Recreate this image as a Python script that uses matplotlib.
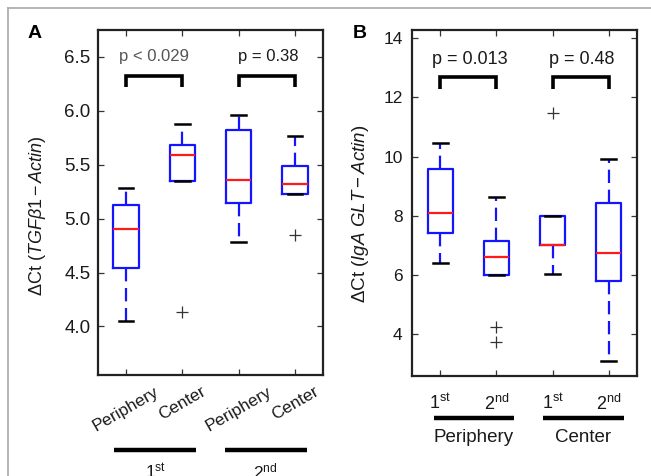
import matplotlib
matplotlib.use('Agg')
import matplotlib.pyplot as plt
import matplotlib.transforms as mtransforms
from matplotlib.lines import Line2D

plt.rcParams['font.family'] = ['Liberation Sans', 'DejaVu Sans']
plt.rcParams['mathtext.fontset'] = 'custom'
plt.rcParams['mathtext.rm'] = 'Liberation Sans'
plt.rcParams['mathtext.it'] = 'Liberation Sans:italic'
plt.rcParams['mathtext.bf'] = 'Liberation Sans:bold'

# ---------------- data ----------------
# Panel A: TGFbeta1
labels_A = ['Periphery', 'Center', 'Periphery', 'Center']
group_A = ['1$^{\\mathrm{st}}$', '2$^{\\mathrm{nd}}$']
a_q1 = [4.54, 5.35, 5.15, 5.23]
a_med = [4.90, 5.59, 5.36, 5.32]
a_q3 = [5.13, 5.68, 5.82, 5.49]
a_lo = [4.05, 5.35, 4.78, 5.23]
a_hi = [5.28, 5.88, 5.96, 5.77]
a_fliers = [[], [4.13], [], [4.85]]
p_A = ['p < 0.029', 'p = 0.38']

# Panel B: IgA GLT
labels_B = ['1$^{\\mathrm{st}}$', '2$^{\\mathrm{nd}}$', '1$^{\\mathrm{st}}$', '2$^{\\mathrm{nd}}$']
group_B = ['Periphery', 'Center']
b_q1 = [7.43, 6.00, 7.03, 5.80]
b_med = [8.09, 6.62, 7.03, 6.76]
b_q3 = [9.57, 7.16, 8.00, 8.45]
b_lo = [6.40, 6.00, 6.03, 3.10]
b_hi = [10.47, 8.65, 8.00, 9.91]
b_fliers = [[], [4.24, 3.75], [11.47], []]
p_B = ['p = 0.013', 'p = 0.48']

positions = [1, 2, 3, 4]

BLUE = '#1414ff'
RED = '#ff1a1a'
DARK = '#1a1a1a'

fig = plt.figure(figsize=(6.51, 4.76), dpi=100)
W, H = 651.0, 476.0
axA = fig.add_axes([98 / W, 1 - 375 / H, 225 / W, 345 / H])
axB = fig.add_axes([412.3 / W, 1 - 375.7 / H, 224.4 / W, 345.7 / H])


def draw_boxes(ax, q1, med, q3, lo, hi, fliers):
    stats = []
    for i in range(len(q1)):
        stats.append(dict(q1=q1[i], med=med[i], q3=q3[i], whislo=lo[i],
                          whishi=hi[i], fliers=fliers[i]))
    ax.bxp(stats, positions=positions, widths=0.45, capwidths=0.26,
           showfliers=True, manage_ticks=False,
           boxprops=dict(color=BLUE, lw=1.6),
           whiskerprops=dict(color=BLUE, lw=1.6, linestyle=(0, (6, 3))),
           capprops=dict(color='black', lw=1.8, zorder=4),
           medianprops=dict(color=RED, lw=1.6, zorder=5),
           flierprops=dict(marker='+', markeredgecolor='#333333',
                           markersize=9, markeredgewidth=0.9, linestyle='none'))


def style(ax):
    for s in ax.spines.values():
        s.set_linewidth(1.6)
        s.set_color('#222222')
    ax.tick_params(direction='in', length=4, width=0.9, top=True, right=True,
                   labelsize=12, colors='#333333', labelcolor=DARK)
    ax.set_xlim(0.5, 4.5)


def bracket(ax, x0, x1, ybot, ytop):
    ax.plot([x0, x0, x1, x1], [ybot, ytop, ytop, ybot], color='black', lw=2.6,
            solid_joinstyle='miter', solid_capstyle='butt', clip_on=False, zorder=6)


# ---------- Panel A ----------
draw_boxes(axA, a_q1, a_med, a_q3, a_lo, a_hi, a_fliers)
style(axA)
axA.set_ylim(3.55, 6.75)
axA.set_yticks([4.0, 4.5, 5.0, 5.5, 6.0, 6.5])
axA.set_yticklabels(['4.0', '4.5', '5.0', '5.5', '6.0', '6.5'])
axA.tick_params(axis='y', labelsize=13.5, pad=5.5)
axA.set_xticks(positions)
axA.set_xticklabels(labels_A, rotation=30, ha='center')
axA.tick_params(axis='x', pad=6.5, labelsize=12.3)
axA.set_ylabel('ΔCt ($\\mathit{TGF\\beta 1 - Actin}$)', fontsize=13, color=DARK, va='center')
axA.yaxis.set_label_coords(-0.267, 0.462)

bracket(axA, 1, 2, 6.22, 6.32)
bracket(axA, 3, 4, 6.22, 6.32)
axA.text(1.5, 6.5, p_A[0], ha='center', va='center', fontsize=12, color='#555555')
axA.text(3.52, 6.5, p_A[1], ha='center', va='center', fontsize=12, color=DARK)

trA = mtransforms.blended_transform_factory(axA.transData, axA.transAxes)
for c, lab in zip([1.52, 3.48], group_A):
    axA.plot([c - 0.73, c + 0.73], [-0.217, -0.217], transform=trA, color='black',
             lw=3.2, solid_capstyle='butt', clip_on=False)
    axA.text(c, -0.25, lab, transform=trA, ha='center', va='top', fontsize=12.5,
             color=DARK)

# ---------- Panel B ----------
draw_boxes(axB, b_q1, b_med, b_q3, b_lo, b_hi, b_fliers)
style(axB)
axB.set_ylim(2.6, 14.28)
axB.set_yticks([4, 6, 8, 10, 12, 14])
axB.tick_params(axis='y', labelsize=12.5, pad=7)
axB.set_xticks(positions)
axB.set_xticklabels(labels_B, fontsize=13)
axB.tick_params(axis='x', pad=13)
axB.set_ylabel('ΔCt ($\\mathit{IgA\\ GLT - Actin}$)', fontsize=13.5, color=DARK, va='center')
axB.yaxis.set_label_coords(-0.233, 0.469)

bracket(axB, 1, 2, 12.28, 12.68)
bracket(axB, 3, 4, 12.28, 12.68)
axB.text(1.53, 13.29, p_B[0], ha='center', va='center', fontsize=13, color=DARK)
axB.text(3.52, 13.29, p_B[1], ha='center', va='center', fontsize=13, color=DARK)

trB = mtransforms.blended_transform_factory(axB.transData, axB.transAxes)
for c, lab in zip([1.60, 3.55], group_B):
    axB.plot([c - 0.72, c + 0.72], [-0.1215, -0.1215], transform=trB, color='black',
             lw=3.2, solid_capstyle='butt', clip_on=False)
    axB.text(c, -0.18, lab, transform=trB, ha='center', va='center', fontsize=13.5,
             color=DARK)

# ---------- panel letters & frame ----------
fig.text(34.5 / W, 1 - 34 / H, 'A', fontsize=14, fontweight='bold', ha='center', va='center')
fig.text(360 / W, 1 - 34 / H, 'B', fontsize=14, fontweight='bold', ha='center', va='center')
fig.add_artist(Line2D([8 / W, 1], [1 - 8 / H, 1 - 8 / H], transform=fig.transFigure,
                      color='#a8a8a8', lw=1.2))
fig.add_artist(Line2D([8 / W, 8 / W], [0, 1 - 8 / H], transform=fig.transFigure,
                      color='#a8a8a8', lw=1.2))

fig.savefig('out.png', dpi=100)
